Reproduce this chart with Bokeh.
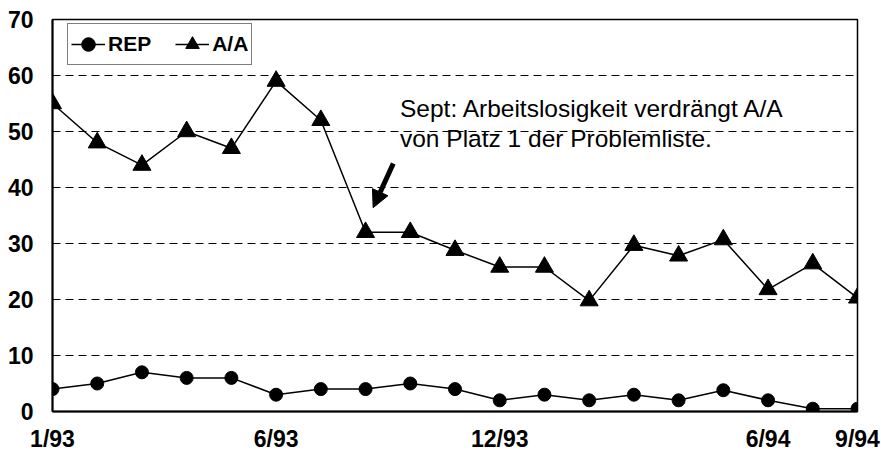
from bokeh.plotting import figure
from bokeh.models import FixedTicker, Range1d, Label, Arrow, NormalHead
from bokeh.embed import file_html
from bokeh.resources import INLINE

# ---- data ----
x_idx = list(range(19))
tick_pos = [0, 5, 10, 16, 18]
tick_labels = ["1/93", "6/93", "12/93", "6/94", "9/94"]
rep = [4, 5, 7, 6, 6, 3, 4, 4, 5, 4, 2, 3, 2, 3, 2, 3.8, 2, 0.5, 0.5]
aa = [55, 48, 44, 50, 47, 59, 52, 32, 32, 28.8, 25.8, 25.8, 19.8, 29.7, 27.8, 30.7, 21.8, 26.4, 20.3]
y_ticks = [0, 10, 20, 30, 40, 50, 60, 70]
note_lines = ["Sept: Arbeitslosigkeit verdrängt A/A", "von Platz 1 der Problemliste."]

FONT = "Liberation Sans"

p = figure(width=881, height=454, output_backend="svg", toolbar_location=None,
           x_range=Range1d(0, 18), y_range=Range1d(0, 70),
           min_border_left=52, min_border_right=24, min_border_top=19, min_border_bottom=43)
p.background_fill_color = "white"
p.border_fill_color = "white"
p.outline_line_color = "black"
p.outline_line_width = 1.5

# axes
p.xaxis.ticker = FixedTicker(ticks=tick_pos)
p.xaxis.major_label_overrides = {t: l for t, l in zip(tick_pos, tick_labels)}
p.yaxis.ticker = FixedTicker(ticks=y_ticks)
for ax in (p.xaxis, p.yaxis):
    ax.axis_line_color = "black"
    ax.axis_line_width = 2
    ax.major_tick_out = 0
    ax.major_tick_in = 0
    ax.minor_tick_out = 0
    ax.minor_tick_in = 0
    ax.major_label_text_font = FONT
    ax.major_label_text_font_style = "bold"
    ax.major_label_text_font_size = "23px"
    ax.major_label_text_color = "black"
p.xaxis.major_label_standoff = 14
p.yaxis.major_label_standoff = 19

# grid
p.xgrid.grid_line_color = None
p.ygrid.ticker = FixedTicker(ticks=y_ticks[1:-1])
p.ygrid.grid_line_color = "black"
p.ygrid.grid_line_width = 1
p.ygrid.grid_line_dash = "8 5"

# series
p.line(x_idx, rep, line_color="black", line_width=1.5, legend_label="REP")
p.scatter(x_idx, rep, marker="circle", size=13, fill_color="black", line_color="black", legend_label="REP")
p.line(x_idx, aa, line_color="black", line_width=1.5, legend_label="A/A")
p.scatter(x_idx, aa, marker="triangle", size=18, fill_color="black", line_color="black", legend_label="A/A")

# legend
lg = p.legend[0]
lg.orientation = "horizontal"
lg.location = (15, 346)
lg.border_line_color = "black"
lg.border_line_width = 1.5
lg.background_fill_alpha = 1
lg.padding = 3
lg.spacing = 24
lg.glyph_width = 34
lg.glyph_height = 34
lg.label_standoff = 3
lg.label_text_font = FONT
lg.label_text_font_style = "bold"
lg.label_text_font_size = "21px"
lg.label_text_color = "black"
lg.margin = 0

# annotation
for i, txt in enumerate(note_lines):
    p.add_layout(Label(x=7.77, y=56.6 - 5.36 * i, text=txt, text_font=FONT, text_font_size="24.5px",
                       text_color="black", text_baseline="top", text_align="left"))

p.add_layout(Arrow(x_start=7.62, y_start=44.3, x_end=7.17, y_end=36.4,
                   line_color="black", line_width=5,
                   end=NormalHead(size=17, fill_color="black", line_color="black", line_width=1)))

open("out.html", "w").write(file_html(p, INLINE))
